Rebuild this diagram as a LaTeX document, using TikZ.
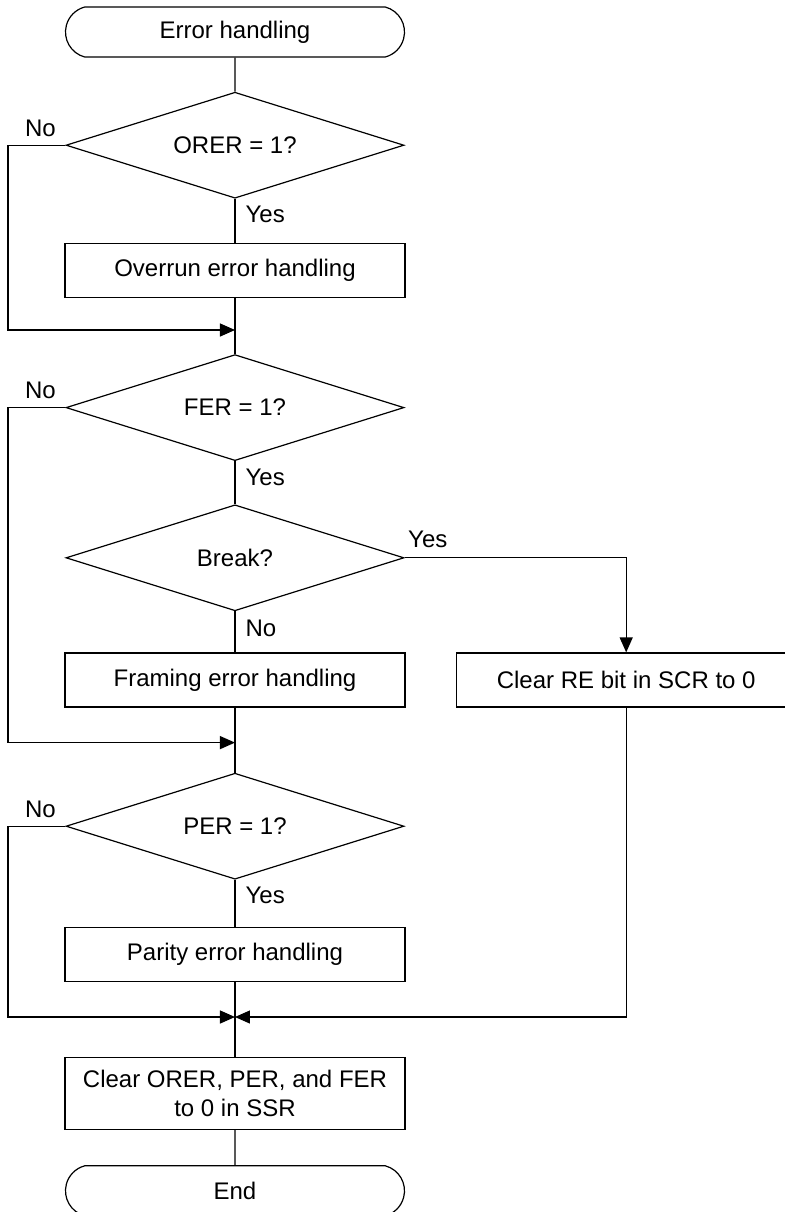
\documentclass[tikz,border=0pt]{standalone}
\usepackage{fontspec}
\setmainfont{Liberation Sans}
\usetikzlibrary{calc,positioning,arrows.meta,shapes.geometric,shapes.misc}

\begin{document}
\begin{tikzpicture}[
  font=\fontsize{12}{14.5}\selectfont,
  line width=0.6pt,
  terminal/.style={rounded rectangle, rounded rectangle arc length=150, draw,
    minimum width=169.5pt, minimum height=25pt, inner sep=0pt},
  decision/.style={diamond, draw, aspect=3.2, minimum width=169pt, minimum height=53pt, inner sep=0pt},
  process/.style={rectangle, draw, minimum width=170pt, minimum height=27pt, align=center, inner sep=2pt},
  arr/.style={-{Triangle[length=7.5pt,width=6.5pt]}},
  lbl/.style={inner sep=1.5pt}
]
  % page frame
  \useasboundingbox (-117.5pt,16pt) rectangle ++(392.5pt,-606pt);

  % main column
  \node[terminal] (start) {Error handling};
  \node[decision, below=17pt of start] (orer) {ORER = 1?};
  \node[process, below=22pt of orer] (overrun) {Overrun error handling};
  \coordinate[below=16pt of overrun] (m1);
  \node[decision, below=12pt of m1] (fer) {FER = 1?};
  \node[decision, below=21.5pt of fer] (brk) {Break?};
  \node[process, below=20.5pt of brk] (framing) {Framing error handling};
  \node[process, right=25pt of framing] (clrre) {Clear RE bit in SCR to 0};
  \coordinate[below=17.5pt of framing] (m2);
  \node[decision, below=15pt of m2] (per) {PER = 1?};
  \node[process, below=23.5pt of per] (parity) {Parity error handling};
  \coordinate[below=17.5pt of parity] (m3);
  \node[process, below=20pt of m3, minimum height=36pt] (clear) {Clear ORER, PER, and FER\\to 0 in SSR};
  \node[terminal, below=17.5pt of clear] (end) {End};

  % left rail for the No branches
  \coordinate (rail) at ($(start.center)+(-113.5pt,0)$);

  % connectors
  \draw (start) -- (orer);
  \draw (orer) -- (overrun);
  \draw (overrun.south) -- (fer.north);
  \draw[arr] (orer.west) -- (orer.west -| rail) |- (m1);
  \draw (fer) -- (brk);
  \draw (brk) -- (framing);
  \draw[arr] (brk.east) -| (clrre.north);
  \draw (framing.south) -- (per.north);
  \draw[arr] (fer.west) -- (fer.west -| rail) |- (m2);
  \draw (per) -- (parity);
  \draw (parity.south) -- (clear.north);
  \draw[arr] (per.west) -- (per.west -| rail) |- (m3);
  \draw[arr] (clrre.south) |- (m3);
  \draw (clear) -- (end);

  % branch labels
  \node[lbl, anchor=south east, xshift=-3pt, yshift=2.5pt] (orerno) at (orer.west) {No};
  \node[lbl, anchor=north west, xshift=3.5pt, yshift=-2pt] (oreryes) at (orer.south) {Yes};
  \node[lbl, anchor=south east, xshift=-3pt, yshift=2.5pt] (ferno) at (fer.west) {No};
  \node[lbl, anchor=north west, xshift=3.5pt, yshift=-2pt] (feryes) at (fer.south) {Yes};
  \node[lbl, anchor=south west, yshift=3pt] (brkyes) at (brk.east) {Yes};
  \node[lbl, anchor=north west, xshift=3.5pt, yshift=-2.5pt] (brkno) at (brk.south) {No};
  \node[lbl, anchor=south east, xshift=-3pt, yshift=2.5pt] (perno) at (per.west) {No};
  \node[lbl, anchor=north west, xshift=3.5pt, yshift=-2pt] (peryes) at (per.south) {Yes};
\end{tikzpicture}
\end{document}
